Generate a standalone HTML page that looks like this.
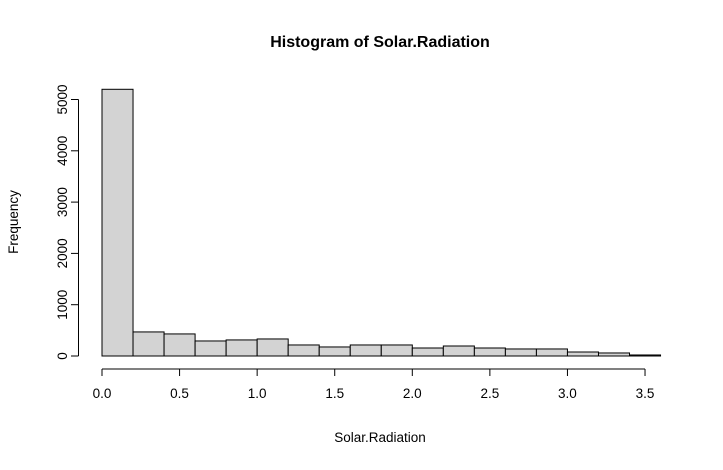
<!DOCTYPE html>
<html><head><meta charset="utf-8"><style>
body{margin:0;background:#fff;}
svg text{font-family:"Liberation Sans",Arial,sans-serif;fill:#000;}
</style></head><body>
<svg width="723" height="465" viewBox="0 0 723 465">
<text x="380" y="47" font-size="16" font-weight="bold" text-anchor="middle">Histogram of Solar.Radiation</text>
<g id="bars"></g>
<g id="xaxis"></g>
<g id="yaxis"></g>
<text x="380" y="442" font-size="13.5" text-anchor="middle">Solar.Radiation</text>
<text transform="translate(18,222) rotate(-90)" font-size="13.5" text-anchor="middle">Frequency</text>
</svg>
<script>
const binStarts=[0,0.2,0.4,0.6,0.8,1.0,1.2,1.4,1.6,1.8,2.0,2.2,2.4,2.6,2.8,3.0,3.2,3.4];
const counts=[5199,469,430,293,313,332,215,176,215,215,156,195,156,137,137,78,59,20];
const binWidth=0.2;
const xTicks=[0,0.5,1.0,1.5,2.0,2.5,3.0,3.5];
const xTickLabels=["0.0","0.5","1.0","1.5","2.0","2.5","3.0","3.5"];
const yTicks=[0,1000,2000,3000,4000,5000];
const NS="http://www.w3.org/2000/svg";
const X=v=>102+v*155.15;
const Y=v=>356-v*0.0513;
function mk(tag,attrs,parent,txt){const e=document.createElementNS(NS,tag);for(const k in attrs)e.setAttribute(k,attrs[k]);if(txt!==undefined)e.textContent=txt;parent.appendChild(e);return e;}
const bars=document.getElementById('bars');
binStarts.forEach((s,i)=>{
 const r=mk('rect',{x:X(s),y:Y(counts[i]),width:X(s+binWidth)-X(s),height:Y(0)-Y(counts[i]),fill:'#d3d3d3',stroke:'#000','stroke-width':1},bars);
 
 
});
const xa=document.getElementById('xaxis');
mk('line',{x1:X(xTicks[0]),x2:X(xTicks[xTicks.length-1]),y1:369,y2:369,stroke:'#000'},xa);
xTicks.forEach((t,i)=>{
 mk('line',{x1:X(t),x2:X(t),y1:369,y2:376,stroke:'#000'},xa);
 const tx=mk('text',{x:X(t),y:398,'font-size':13.5,'text-anchor':'middle'},xa,xTickLabels[i]);
 
 
});
const ya=document.getElementById('yaxis');
mk('line',{x1:78.5,x2:78.5,y1:Y(yTicks[0]),y2:Y(yTicks[yTicks.length-1]),stroke:'#000'},ya);
yTicks.forEach(t=>{
 mk('line',{x1:71,x2:78.5,y1:Y(t),y2:Y(t),stroke:'#000'},ya);
 const tx=mk('text',{transform:`translate(67,${Y(t)}) rotate(-90)`,'font-size':13.5,'text-anchor':'middle'},ya,String(t));
 
 
});
</script>
</body></html>
